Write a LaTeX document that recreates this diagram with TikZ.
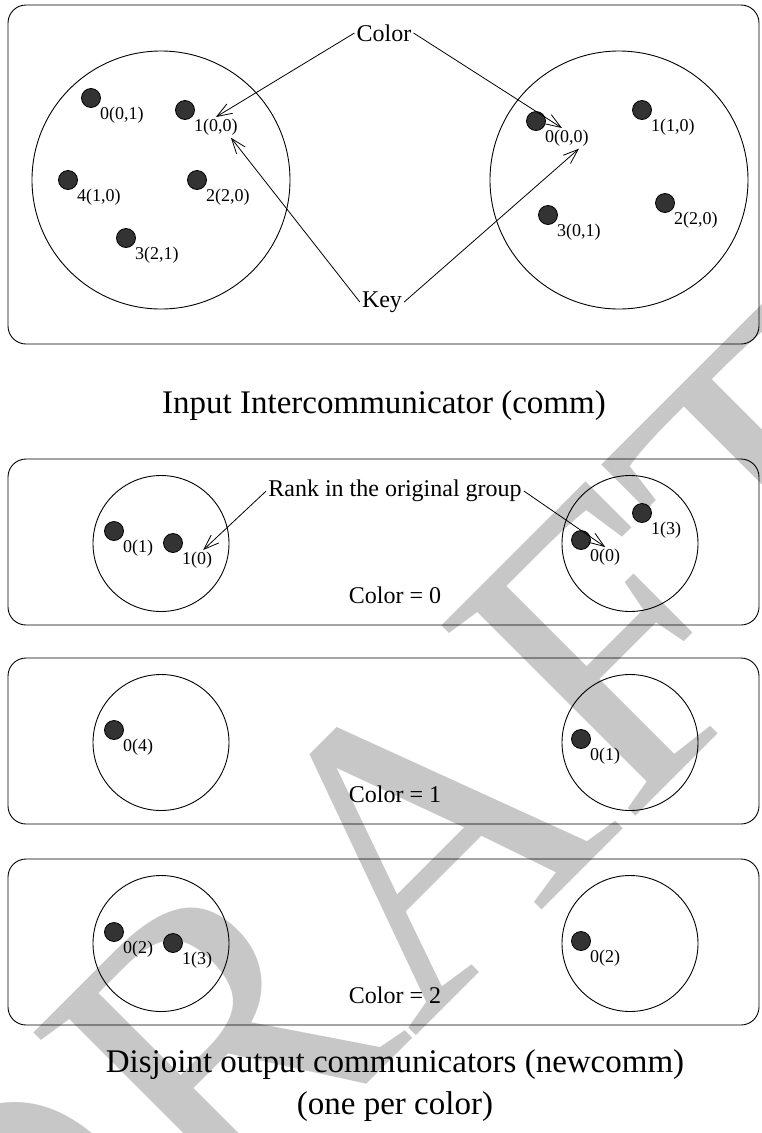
\documentclass[tikz,border=0pt]{standalone}
\usepackage{fontspec}
\setmainfont{Liberation Serif}
\usetikzlibrary{arrows.meta}

\begin{document}
\begin{tikzpicture}[x=1pt,y=-1pt,
	comm/.style={draw,line width=0.9pt,rounded corners=18pt},
	grp/.style={draw,circle,line width=0.9pt,inner sep=0pt},
	proc/.style={draw,circle,fill=black!80,line width=0.8pt,minimum size=19pt,inner sep=0pt},
	rk/.style={inner sep=2pt,font=\fontsize{18}{21}\selectfont},
	note/.style={inner sep=2pt,font=\fontsize{24}{28}\selectfont},
	title/.style={align=center,font=\fontsize{33}{42}\selectfont},
	pointer/.style={line width=0.8pt,-{Straight Barb[length=15pt,width=11pt]}}]
	\useasboundingbox (0,0) rectangle (761,1133);
	% watermark
	\node (draft) [rotate=45,inner sep=0pt,text=black!22,
		font=\fontsize{415}{415}\selectfont] at (390,868) {DRAFT};

	% input intercommunicator
	\draw [comm] (8,5) rectangle (759,344);
	\node (inL) [grp,minimum size=258pt] at (161,180) {};
	\node (inR) [grp,minimum size=258pt] at (619,180) {};
	\node (a0) [proc,label={[rk,name=a0l]-45:0(0,1)}] at (91,98) {};
	\node (a1) [proc,label={[rk,name=a1l]-45:1(0,0)}] at (185,110) {};
	\node (a2) [proc,label={[rk,name=a2l]-45:2(2,0)}] at (197,180) {};
	\node (a3) [proc,label={[rk,name=a3l]-45:3(2,1)}] at (126,238) {};
	\node (a4) [proc,label={[rk,name=a4l]-45:4(1,0)}] at (68,180) {};
	\node (b0) [proc,label={[rk,name=b0l]-45:0(0,0)}] at (536,121) {};
	\node (b1) [proc,label={[rk,name=b1l]-45:1(1,0)}] at (642,110) {};
	\node (b2) [proc,label={[rk,name=b2l]-45:2(2,0)}] at (665,203) {};
	\node (b3) [proc,label={[rk,name=b3l]-45:3(0,1)}] at (548,215) {};
	\node (color) [note] at (384,33) {Color};
	\node (key) [note] at (382,302) {Key};
	\draw [pointer] (color.west) -- (a1l.north);
	\draw [pointer] (color.east) -- ([xshift=-5pt]b0l.north);
	\draw [pointer] (key.west) -- ([xshift=15pt]a1l.south);
	\draw [pointer] (key.east) -- ([xshift=12pt]b0l.south);
	\node (intitle) [title] at (384,406) {Input Intercommunicator (comm)};

	% output communicators, one box per color
	\foreach \t/\c in {459/0,658/1,859/2} {
		\draw [comm] (8,\t) rectangle (759,\t+166);
		\node (gl\c) [grp,minimum size=136pt] at (161,\t+84.5) {};
		\node (gr\c) [grp,minimum size=136pt] at (630,\t+84.5) {};
		\node (col\c) [note] at (395,\t+136) {Color = \c};
	}
	\node (c0) [proc,label={[rk,name=c0l]-45:0(1)}] at (114,531) {};
	\node (c1) [proc,label={[rk,name=c1l]-45:1(0)}] at (173,543) {};
	\node (d0) [proc,label={[rk,name=d0l]-45:0(0)}] at (581,540) {};
	\node (d1) [proc,label={[rk,name=d1l]-45:1(3)}] at (642,513) {};
	\node (e0) [proc,label={[rk,name=e0l]-45:0(4)}] at (114,730) {};
	\node (f0) [proc,label={[rk,name=f0l]-45:0(1)}] at (581,739) {};
	\node (g0) [proc,label={[rk,name=g0l]-45:0(2)}] at (114,932) {};
	\node (g1) [proc,label={[rk,name=g1l]-45:1(3)}] at (173,943) {};
	\node (h0) [proc,label={[rk,name=h0l]-45:0(2)}] at (581,941) {};
	\node (rank) [note] at (395,491) {Rank in the original group};
	\draw [pointer] (rank.west) -- ([xshift=6pt]c1l.north);
	\draw [pointer] (rank.east) -- (d0l.north);
	\node (outtitle) [title] at (395,1086)
		{Disjoint output communicators (newcomm)\\(one per color)};
\end{tikzpicture}
\end{document}
